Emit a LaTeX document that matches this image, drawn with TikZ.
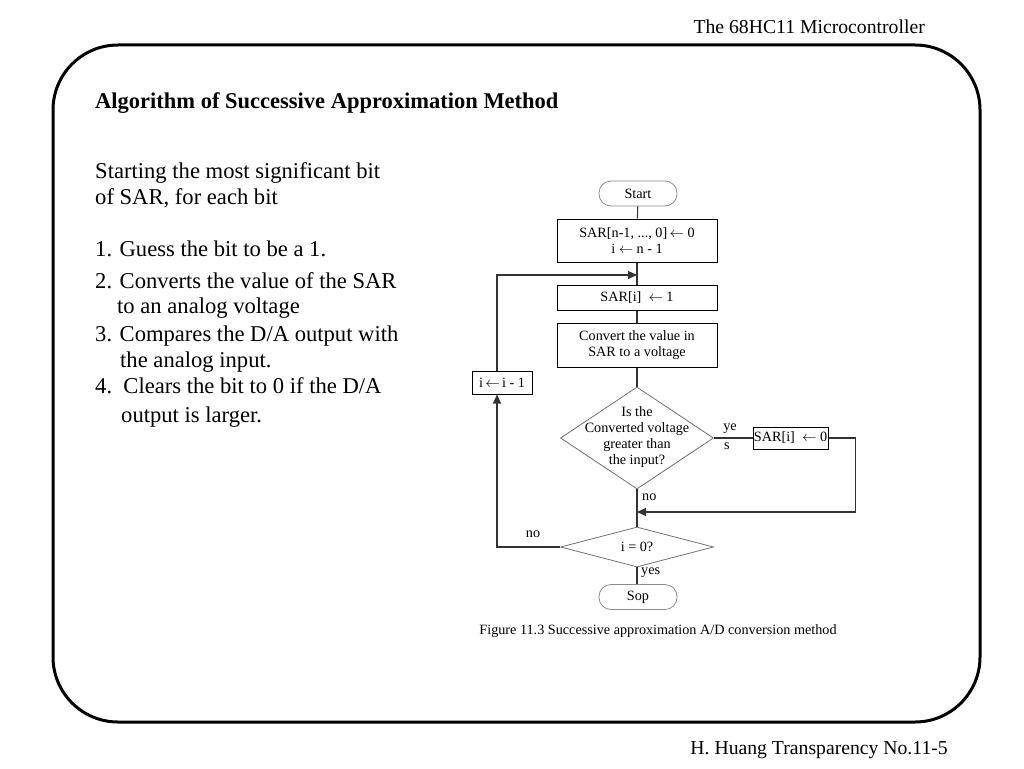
\documentclass[tikz,border=0pt]{standalone}
\usepackage{fontspec}
\setmainfont{Liberation Serif}
\usetikzlibrary{shapes.geometric,arrows.meta}
\newcommand{\larr}{\ensuremath{\leftarrow}}
\begin{document}
\begin{tikzpicture}[x=1pt,y=-1pt,
 small/.style={font=\fontsize{14.2}{16}\selectfont},
 proc/.style={small,draw=black,line width=1pt,minimum width=160pt,align=center,inner sep=0pt},
 term/.style={small,draw=black!45,line width=0.8pt,rounded corners=12pt,minimum width=78pt,minimum height=25pt,inner sep=0pt},
 dec/.style={draw=black!55,line width=0.8pt,diamond,inner sep=0pt},
 conn/.style={draw=black!80,line width=1.1pt},
 arr/.style={conn,-{Triangle[length=9pt,width=8pt]}},
 lbl/.style={small,inner sep=0pt},
 body/.style={font=\fontsize{22.6}{26}\selectfont,anchor=base west,inner sep=0pt},
]
\useasboundingbox (0,0) rectangle (1024,768);
\fill[white] (0,0) rectangle (1024,768);
\draw[line width=3pt, rounded corners=65pt] (53,45) rectangle (980,722);

\node[font=\fontsize{19.7}{22}\selectfont,anchor=base east,inner sep=0pt] (hdr) at (925,34) {The 68HC11 Microcontroller};
\node[font=\fontsize{19.7}{22}\selectfont,anchor=base east,inner sep=0pt] (ftr) at (948,754) {H. Huang Transparency No.11-5};
\node[font=\fontsize{22.5}{25}\selectfont\bfseries,anchor=base west,inner sep=0pt] (title) at (95,108) {Algorithm of Successive Approximation Method};

\node[body] (t1) at (95,178) {Starting the most significant bit};
\node[body] (t2) at (95,204) {of SAR, for each bit};
\node[body] (t3) at (95,256) {1. Guess the bit to be a 1.};
\node[body] (t4) at (95,288) {2. Converts the value of the SAR};
\node[body] (t5) at (117,313) {to an analog voltage};
\node[body] (t6) at (95,341) {3. Compares the D/A output with};
\node[body] (t7) at (120,367) {the analog input.};
\node[body] (t8) at (95,393) {4.\ \ Clears the bit to 0 if the D/A};
\node[body] (t9) at (121,422) {output is larger.};

% flowchart
\coordinate (lx) at (497,0);
\node[term] (start) at (638,193.5) {Start};
\node[proc, minimum height=43pt] (init) at (637,240.5) {SAR[n-1, ..., 0]\,\larr\ 0\\ i \larr\ n - 1};
\node[proc, minimum height=25pt] (set1) at (637,297.5) {SAR[i] \ \larr\ 1};
\node[proc, minimum height=44pt] (conv) at (637,345) {Convert the value in\\SAR to a voltage};
\node[dec, minimum width=153pt, minimum height=102pt] (cmp) at (637,438) {};
\node[lbl, align=center] (cmpt) at (637,437) {Is the\\Converted voltage\\greater than\\the input?};
\node[proc, minimum width=75pt, minimum height=22pt] (clr) at (790.5,438) {SAR[i] \ \larr\ 0};
\node[dec, minimum width=153pt, minimum height=40pt] (chk) at (637,547) {};
\node[lbl] (chkt) at (637,547) {i = 0?};
\node[term] (stop) at (638,597) {Sop};
\node[proc, minimum width=60pt, minimum height=23pt] (dec1) at (502,382.5) {i\,\larr\,i - 1};

\coordinate (j1) at (637,275);
\coordinate (j2) at (637,512);
\draw[conn] (start) -- (init);
\draw[conn] (init) -- (set1);
\draw[arr] (dec1.north -| lx) |- (j1);
\draw[conn] (set1) -- (conv);
\draw[conn] (conv) -- (cmp.north);
\draw[conn] (cmp.east) -- (clr.west);
\draw[arr] (clr.east) -- ++(27,0) |- (j2);
\draw[conn] (cmp.south) -- (chk.north);
\draw[arr] (chk.west) -| (dec1.south -| lx);
\draw[conn] (chk.south) -- (stop.north -| chk.south);

\node[lbl] (ye) at (730,429) {ye};
\node[lbl] (s) at (727,446) {s};
\node[lbl,anchor=west] (no1) at (642,497) {no};
\node[lbl] (no2) at (533,534) {no};
\node[lbl,anchor=west] (yes) at (641,573) {yes};
\node[lbl] (cap) at (658,631) {Figure 11.3 Successive approximation A/D conversion method};
\end{tikzpicture}
\end{document}
